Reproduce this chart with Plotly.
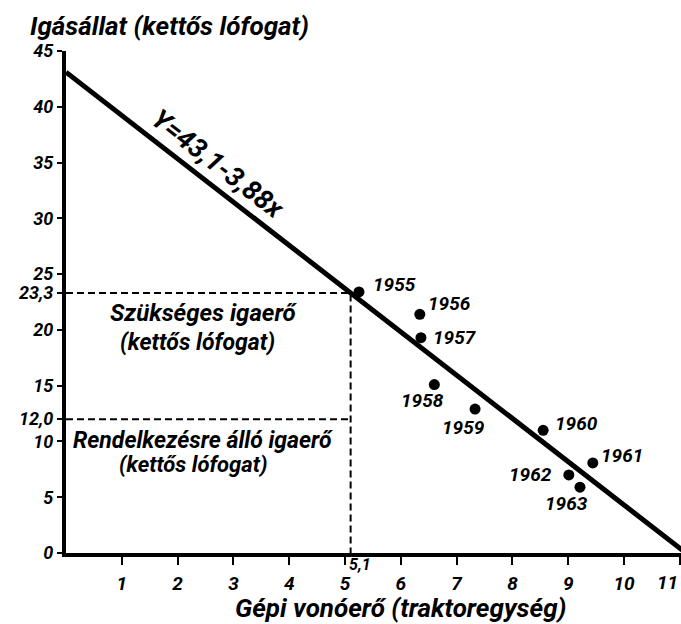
import plotly.graph_objects as go

# Data
years = ["1955", "1956", "1957", "1958", "1959", "1960", "1961", "1962", "1963"]
tractor = [5.25, 6.34, 6.36, 6.6, 7.33, 8.55, 9.44, 9.01, 9.21]
draft_animals = [23.4, 21.4, 19.3, 15.1, 12.9, 11.0, 8.07, 7.0, 5.9]

intercept = 43.1
slope = -3.88
needed_x = 5.1
needed_y = 23.3
available_y = 12.0

x_ticks = [1, 2, 3, 4, 5, 6, 7, 8, 9, 10, 11]
x_ticktext = ["1", "2", "3", "4", "5", "6", "7", "8", "9", "10", "11"]
y_ticks = [0, 5, 10, 12.0, 15, 20, 23.3, 25, 30, 35, 40, 45]
y_ticktext = ["0", "5", "10", "12,0", "15", "20", "23,3", "25", "30", "35", "40", "45"]

FONT = "Roboto, DejaVu Sans, sans-serif"


def bf(size):
    return dict(family=FONT, size=size, color="black", weight="bold", style="italic")


fig = go.Figure()

# regression line
x_end = intercept / -slope
fig.add_trace(go.Scatter(
    x=[0, x_end], y=[intercept, 0], mode="lines",
    line=dict(color="black", width=5), showlegend=False, hoverinfo="skip"))

# dashed guides
fig.add_trace(go.Scatter(
    x=[0, needed_x, needed_x], y=[needed_y, needed_y, 0], mode="lines",
    line=dict(color="black", width=2, dash="7px,4px"), showlegend=False, hoverinfo="skip"))
fig.add_trace(go.Scatter(
    x=[0, needed_x], y=[available_y, available_y], mode="lines",
    line=dict(color="black", width=2, dash="7px,4px"), showlegend=False, hoverinfo="skip"))

# yearly points
fig.add_trace(go.Scatter(
    x=tractor, y=draft_animals, mode="markers",
    marker=dict(color="black", size=11), showlegend=False))

# year labels: (xshift, yshift, xanchor)
offsets = {
    "1955": (12, 7, "left"), "1956": (6, 11, "left"), "1957": (10, 0, "left"),
    "1958": (-12, -16, "center"), "1959": (-12, -18, "center"), "1960": (10, 7, "left"),
    "1961": (6, 7, "left"), "1962": (-15, 0, "right"), "1963": (-13, -16, "center"),
}
for yr, xv, yv in zip(years, tractor, draft_animals):
    dx, dy, anc = offsets[yr]
    fig.add_annotation(x=xv, y=yv, text=yr, showarrow=False,
                       xshift=dx, yshift=dy, xanchor=anc, font=bf(19))

# equation label along the line
eq_x = 2.5
fig.add_annotation(x=eq_x, y=intercept + slope * eq_x, text="Y=43,1-3,88x",
                   showarrow=False, textangle=37.8, xshift=12, yshift=16, font=bf(27))

# region labels
fig.add_annotation(x=2.47, y=21.5, text="Szükséges igaerő", showarrow=False, font=bf(24))
fig.add_annotation(x=2.35, y=18.9, text="(kettős lófogat)", showarrow=False, font=bf(23))
fig.add_annotation(x=2.46, y=10.1, text="Rendelkezésre álló igaerő", showarrow=False, font=bf(23))
fig.add_annotation(x=2.28, y=7.9, text="(kettős lófogat)", showarrow=False, font=bf(22))

# 5,1 label
fig.add_annotation(x=needed_x, y=0, text="5,1", showarrow=False,
                   xanchor="left", yanchor="middle", xshift=-4, yshift=-11, font=bf(16))

# last x tick label, kept inside the page edge
fig.add_annotation(x=x_ticks[-1], y=0, text=x_ticktext[-1], showarrow=False,
                   xanchor="right", yanchor="middle", xshift=0, yshift=-29, font=bf(19))

# axis titles
fig.add_annotation(xref="paper", yref="paper", x=-0.062, y=1.0, yshift=25,
                   xanchor="left", yanchor="middle",
                   text="Igásállat (kettős lófogat)", showarrow=False, font=bf(26))
fig.add_annotation(x=6.0, yref="paper", y=0, yshift=-55, yanchor="middle",
                   text="Gépi vonóerő (traktoregység)", showarrow=False, font=bf(26))

fig.update_layout(
    width=681, height=624,
    margin=dict(l=66, r=0, t=51, b=71, autoexpand=False),
    paper_bgcolor="white", plot_bgcolor="white",
    font=dict(family=FONT, color="black"),
    xaxis=dict(range=[0, 11.02], tickvals=x_ticks,
               ticktext=x_ticktext[:-1] + [""],
               showgrid=False, zeroline=False, showline=True, linecolor="black", linewidth=4,
               ticks="outside", ticklen=8, tickwidth=2, tickcolor="black",
               automargin=False, ticklabelstandoff=2, tickfont=bf(19)),
    yaxis=dict(range=[0, 45], tickvals=y_ticks, ticktext=y_ticktext,
               showgrid=False, zeroline=False, showline=True, linecolor="black", linewidth=4,
               ticks="outside", ticklen=5, tickwidth=2, tickcolor="black",
               automargin=False, tickfont=bf(18)),
)

fig.write_html("out.html", config={"displayModeBar": False},
               post_script="document.body.style.margin='0';")
